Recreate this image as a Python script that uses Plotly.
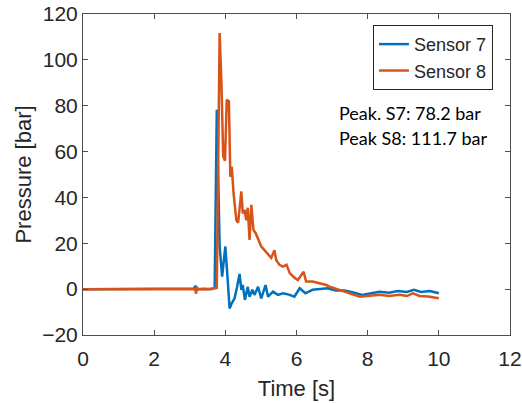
import plotly.graph_objects as go

# Sensor 7 (blue)
t7 = [0, 1.0, 2.0, 3.0, 3.12, 3.16, 3.19, 3.22, 3.4, 3.6, 3.70, 3.76, 3.84, 3.91, 4.00, 4.06,
      4.12, 4.18, 4.26, 4.33, 4.40, 4.45, 4.49, 4.55, 4.63, 4.68, 4.76, 4.82, 4.92, 5.01,
      5.13, 5.20, 5.34, 5.48, 5.62, 5.81, 5.94, 6.09, 6.25, 6.45, 6.65, 6.87, 7.1, 7.35,
      7.6, 7.85, 8.1, 8.33, 8.6, 8.85, 9.1, 9.3, 9.5, 9.75, 10.0]
p7 = [0, 0, 0, 0.2, 0.3, 1.5, 0.2, 0, 0.2, 0, 0.5, 78.2, 18.6, 5.5, 18.6, 5.5,
      -8.4, -6.2, -4.0, 1.0, 6.6, -0.3, 1.8, -4.7, 1.0, -3.3, -0.3, -2.5, 1.0, -4.0,
      1.8, -3.3, -1.1, -2.5, -1.8, -2.5, -3.3, 0.4, -1.8, -0.3, 0.0, 0.4, -0.6, -0.6,
      -1.5, -2.5, -1.8, -1.1, -1.6, -0.8, -1.2, -0.3, -1.2, -0.8, -1.8]

# Sensor 8 (orange)
t8 = [0, 1.0, 2.0, 3.0, 3.15, 3.18, 3.20, 3.23, 3.5, 3.76, 3.84, 3.89, 3.94, 3.99, 4.04,
      4.10, 4.14, 4.18, 4.23, 4.31, 4.36, 4.45, 4.49, 4.54, 4.59, 4.63, 4.68, 4.73, 4.79,
      4.85, 4.92, 5.01, 5.10, 5.20, 5.29, 5.38, 5.43, 5.52, 5.62, 5.72, 5.81, 5.95, 6.04,
      6.20, 6.27, 6.45, 6.65, 6.84, 6.93, 7.21, 7.45, 7.68, 7.78, 8.0, 8.33, 8.6, 8.9,
      9.1, 9.27, 9.46, 9.7, 10.0]
p8 = [0, 0, 0, 0, 0, -2.0, 1.0, 0, 0, 0.5, 111.7, 90, 58, 56, 82.6,
      82, 49, 53.5, 42, 30, 29, 42.6, 33, 34.6, 30, 35.5, 21.5, 36.8, 25.8,
      24.5, 21.5, 18.6, 17, 15, 13.6, 17, 12.7, 10.6, 9.8, 10.6, 7, 4.9, 4,
      7.6, 3.3, 3.3, 2.6, 1.8, 1.1, -0.3, -1.5, -2.5, -3.3, -3.0, -2.5, -3.0, -2.5,
      -3.0, -1.8, -3.0, -3.2, -4.0]

names = ["Sensor 7", "Sensor 8"]
colors = ["#0072BD", "#D95319"]
notes = ["Peak. S7: 78.2 bar", "Peak S8: 111.7 bar"]
x_ticks = [0, 2, 4, 6, 8, 10, 12]
y_ticks = [-20, 0, 20, 40, 60, 80, 100, 120]

FONT = "Liberation Sans"

fig = go.Figure()
fig.add_trace(go.Scatter(x=t7, y=p7, mode="lines", name=names[0], legendgroup="a",
                         line=dict(color=colors[0], width=2.5)))
fig.add_trace(go.Scatter(x=t8, y=p8, mode="lines", name=names[1], legendgroup="b",
                         line=dict(color=colors[1], width=2.5)))

axcol = "#262626"
common = dict(showline=True, linecolor="#4d4d4d", linewidth=1, mirror="ticks",
              ticks="inside", ticklen=5, tickcolor="#4d4d4d", showgrid=False,
              zeroline=False, automargin=False,
              tickfont=dict(family=FONT, size=21, color=axcol))
fig.update_xaxes(range=[0, 12], tickvals=x_ticks, ticklabelstandoff=5,
                 title=dict(text="Time [s]", font=dict(family=FONT, size=22, color=axcol), standoff=11),
                 **common)
fig.update_yaxes(range=[-20, 120], tickvals=y_ticks,
                 title=dict(text="Pressure [bar]", font=dict(family=FONT, size=22, color=axcol), standoff=4),
                 **common)

for i, txt in enumerate(notes):
    fig.add_annotation(x=0.594, y=[0.692, 0.614][i], xref="paper", yref="paper",
                       text=txt, showarrow=False, xanchor="left", yanchor="middle",
                       font=dict(family="Lato", size=18, color="#000000"))

fig.update_layout(
    width=522, height=403,
    margin=dict(l=83, r=12, t=14, b=68),
    plot_bgcolor="white", paper_bgcolor="white",
    legend=dict(x=0.679, y=0.966, xanchor="left", yanchor="top",
                bordercolor="#262626", borderwidth=1, bgcolor="white",
                font=dict(family=FONT, size=18, color="#262626"),
                traceorder="grouped", tracegroupgap=0),
)

fig.write_html("out.html", config={"displayModeBar": False},
               post_script="document.body.style.margin='0';")
